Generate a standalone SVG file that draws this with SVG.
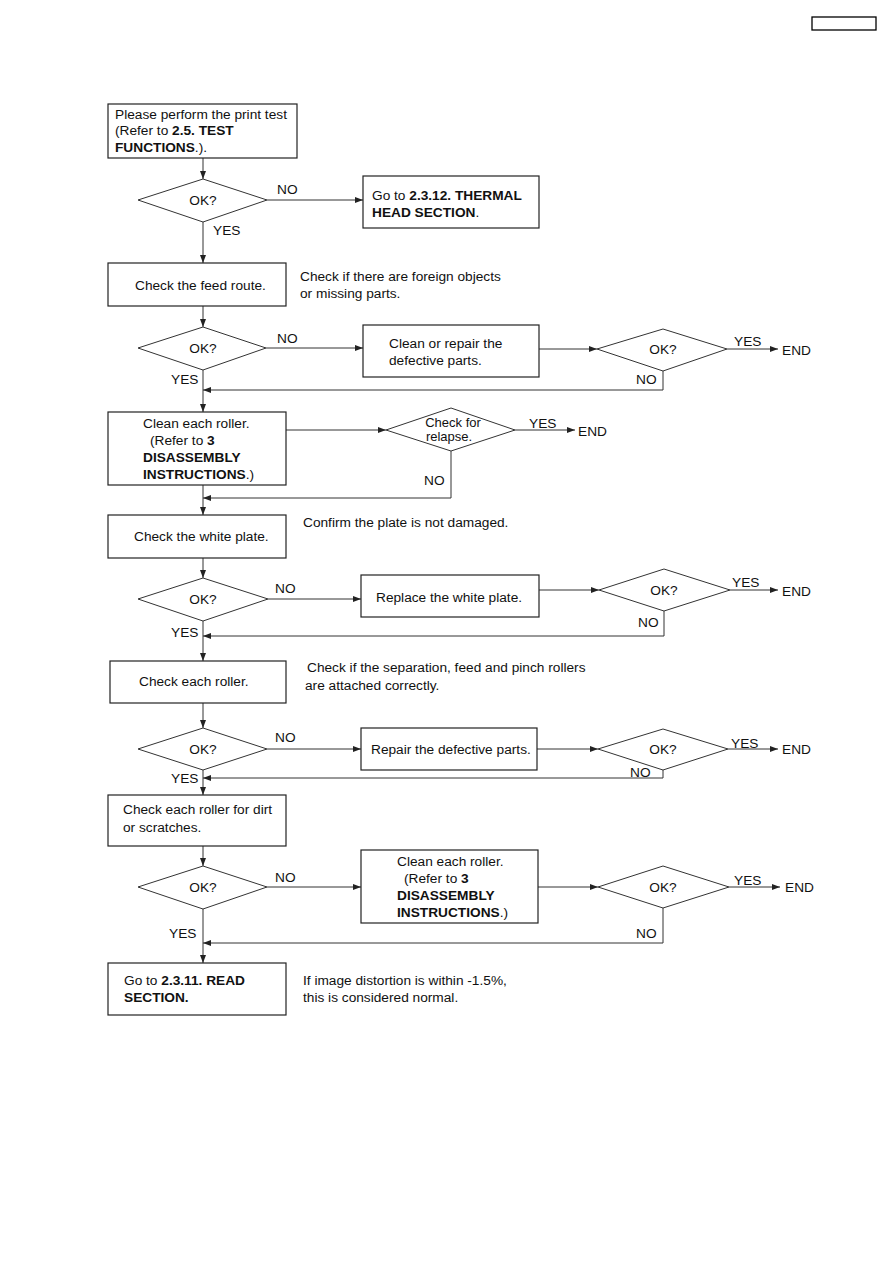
<svg xmlns="http://www.w3.org/2000/svg" width="893" height="1263" viewBox="0 0 893 1263">
<style>
.b{fill:#fff;stroke:#222;stroke-width:1.2}
.d{fill:#fff;stroke:#333;stroke-width:1}
.l{fill:none;stroke:#333;stroke-width:1}
text{font-family:"Liberation Sans",Arial,sans-serif;font-size:13.7px;fill:#111}
.c{text-anchor:middle}
.k{font-weight:bold}
.s{font-size:13px}
</style>
<defs>
<marker id="a" markerWidth="8" markerHeight="6" refX="8" refY="3" orient="auto" markerUnits="userSpaceOnUse">
<path d="M0,0 L8,3 L0,6 Z" fill="#222"/>
</marker>
</defs>
<rect width="893" height="1263" fill="#fff"/>
<rect x="812" y="17" width="64" height="13" fill="none" stroke="#000" stroke-width="1.3"/>

<g id="connectors">
<path class="l" d="M203,158 V179" marker-end="url(#a)"/>
<path class="l" d="M267,200 H363" marker-end="url(#a)"/>
<path class="l" d="M203,222 V263" marker-end="url(#a)"/>
<path class="l" d="M203,306 V327" marker-end="url(#a)"/>
<path class="l" d="M266,348 H363" marker-end="url(#a)"/>
<path class="l" d="M539,349 H597" marker-end="url(#a)"/>
<path class="l" d="M727,349 H778" marker-end="url(#a)"/>
<path class="l" d="M663,371 V390 H203" marker-end="url(#a)"/>
<path class="l" d="M203,370 V412" marker-end="url(#a)"/>
<path class="l" d="M286,430 H386" marker-end="url(#a)"/>
<path class="l" d="M515,430 H575" marker-end="url(#a)"/>
<path class="l" d="M451,451 V498 H203" marker-end="url(#a)"/>
<path class="l" d="M203,485 V515" marker-end="url(#a)"/>
<path class="l" d="M203,558 V578" marker-end="url(#a)"/>
<path class="l" d="M268,599 H361" marker-end="url(#a)"/>
<path class="l" d="M539,590 H599" marker-end="url(#a)"/>
<path class="l" d="M730,590 H778" marker-end="url(#a)"/>
<path class="l" d="M664,611 V636 H203" marker-end="url(#a)"/>
<path class="l" d="M203,621 V661" marker-end="url(#a)"/>
<path class="l" d="M203,703 V728" marker-end="url(#a)"/>
<path class="l" d="M267,749 H361" marker-end="url(#a)"/>
<path class="l" d="M537,749 H598" marker-end="url(#a)"/>
<path class="l" d="M728,749 H778" marker-end="url(#a)"/>
<path class="l" d="M663,770 V778 H203" marker-end="url(#a)"/>
<path class="l" d="M203,770 V795" marker-end="url(#a)"/>
<path class="l" d="M203,846 V866" marker-end="url(#a)"/>
<path class="l" d="M267,887 H361" marker-end="url(#a)"/>
<path class="l" d="M538,887 H598" marker-end="url(#a)"/>
<path class="l" d="M729,887 H780" marker-end="url(#a)"/>
<path class="l" d="M663,908 V943 H203" marker-end="url(#a)"/>
<path class="l" d="M203,909 V963" marker-end="url(#a)"/>
<text x="277" y="194">NO</text>
<text x="213" y="235">YES</text>
<text x="277" y="343">NO</text>
<text x="171" y="384">YES</text>
<text x="734" y="346">YES</text>
<text x="782" y="355">END</text>
<text x="636" y="384">NO</text>
<text x="529" y="428">YES</text>
<text x="578" y="436">END</text>
<text x="424" y="485">NO</text>
<text x="275" y="593">NO</text>
<text x="171" y="637">YES</text>
<text x="732" y="587">YES</text>
<text x="782" y="596">END</text>
<text x="638" y="627">NO</text>
<text x="275" y="742">NO</text>
<text x="171" y="783">YES</text>
<text x="731" y="748">YES</text>
<text x="782" y="754">END</text>
<text x="630" y="777">NO</text>
<text x="275" y="882">NO</text>
<text x="169" y="938">YES</text>
<text x="734" y="885">YES</text>
<text x="785" y="892">END</text>
<text x="636" y="938">NO</text>
</g>

<g id="n1"><rect class="b" x="108" y="104" width="189" height="54"/>
<text x="115" y="119">Please perform the print test</text>
<text x="115" y="135">(Refer to <tspan class="k">2.5. TEST</tspan></text>
<text x="115" y="152"><tspan class="k">FUNCTIONS</tspan>.).</text></g>

<g id="d1"><polygon class="d" points="138,200 203,179 267,200 203,222"/><text class="c" x="203" y="205">OK?</text></g>

<g id="n2"><rect class="b" x="363" y="176" width="176" height="52"/>
<text x="372" y="200">Go to <tspan class="k">2.3.12. THERMAL</tspan></text>
<text x="372" y="217" class="k">HEAD SECTION<tspan font-weight="normal">.</tspan></text></g>

<g id="n3"><rect class="b" x="108" y="263" width="178" height="43"/>
<text x="135" y="290">Check the feed route.</text></g>
<g id="note1"><text x="300" y="281">Check if there are foreign objects</text>
<text x="300" y="298">or missing parts.</text></g>

<g id="d2"><polygon class="d" points="138,348 203,327 266,348 203,370"/><text class="c" x="203" y="353">OK?</text></g>

<g id="n4"><rect class="b" x="363" y="325" width="176" height="52"/>
<text x="389" y="348">Clean or repair the</text>
<text x="389" y="365">defective parts.</text></g>

<g id="d3"><polygon class="d" points="597,349 663,329 727,349 663,371"/><text class="c" x="663" y="354">OK?</text></g>

<g id="n5"><rect class="b" x="108" y="412" width="178" height="73"/>
<text x="143" y="428">Clean each roller.</text>
<text x="150" y="445">(Refer to <tspan class="k">3</tspan></text>
<text x="143" y="462" class="k">DISASSEMBLY</text>
<text x="143" y="479"><tspan class="k">INSTRUCTIONS</tspan>.)</text></g>

<g id="d4"><polygon class="d" points="386,430 451,408 515,430 451,451"/>
<text class="c s" x="453" y="427">Check for</text>
<text class="c s" x="449" y="441">relapse.</text></g>

<g id="n6"><rect class="b" x="108" y="515" width="178" height="43"/>
<text x="134" y="541">Check the white plate.</text></g>
<g id="note2"><text x="303" y="527">Confirm the plate is not damaged.</text></g>

<g id="d5"><polygon class="d" points="138,599 203,578 268,599 203,621"/><text class="c" x="203" y="604">OK?</text></g>

<g id="n7"><rect class="b" x="361" y="575" width="178" height="42"/>
<text x="376" y="602">Replace the white plate.</text></g>

<g id="d6"><polygon class="d" points="599,590 664,569 730,590 664,611"/><text class="c" x="664" y="595">OK?</text></g>

<g id="n8"><rect class="b" x="110" y="661" width="176" height="42"/>
<text x="139" y="686">Check each roller.</text></g>
<g id="note3"><text x="307" y="672">Check if the separation, feed and pinch rollers</text>
<text x="305" y="690">are attached correctly.</text></g>

<g id="d7"><polygon class="d" points="138,749 203,728 267,749 203,770"/><text class="c" x="203" y="754">OK?</text></g>

<g id="n9"><rect class="b" x="361" y="728" width="176" height="42"/>
<text x="371" y="754">Repair the defective parts.</text></g>

<g id="d8"><polygon class="d" points="598,749 663,729 728,749 663,770"/><text class="c" x="663" y="754">OK?</text></g>

<g id="n10"><rect class="b" x="108" y="795" width="178" height="51"/>
<text x="123" y="814">Check each roller for dirt</text>
<text x="123" y="832">or scratches.</text></g>

<g id="d9"><polygon class="d" points="138,887 203,866 267,887 203,909"/><text class="c" x="203" y="892">OK?</text></g>

<g id="n11"><rect class="b" x="361" y="850" width="177" height="73"/>
<text x="397" y="866">Clean each roller.</text>
<text x="404" y="883">(Refer to <tspan class="k">3</tspan></text>
<text x="397" y="900" class="k">DISASSEMBLY</text>
<text x="397" y="917"><tspan class="k">INSTRUCTIONS</tspan>.)</text></g>

<g id="d10"><polygon class="d" points="598,887 663,866 729,887 663,908"/><text class="c" x="663" y="892">OK?</text></g>

<g id="n12"><rect class="b" x="108" y="963" width="178" height="52"/>
<text x="124" y="985">Go to <tspan class="k">2.3.11. READ</tspan></text>
<text x="124" y="1002" class="k">SECTION.</text></g>
<g id="note4"><text x="303" y="985">If image distortion is within -1.5%,</text>
<text x="303" y="1002">this is considered normal.</text></g>
</svg>
